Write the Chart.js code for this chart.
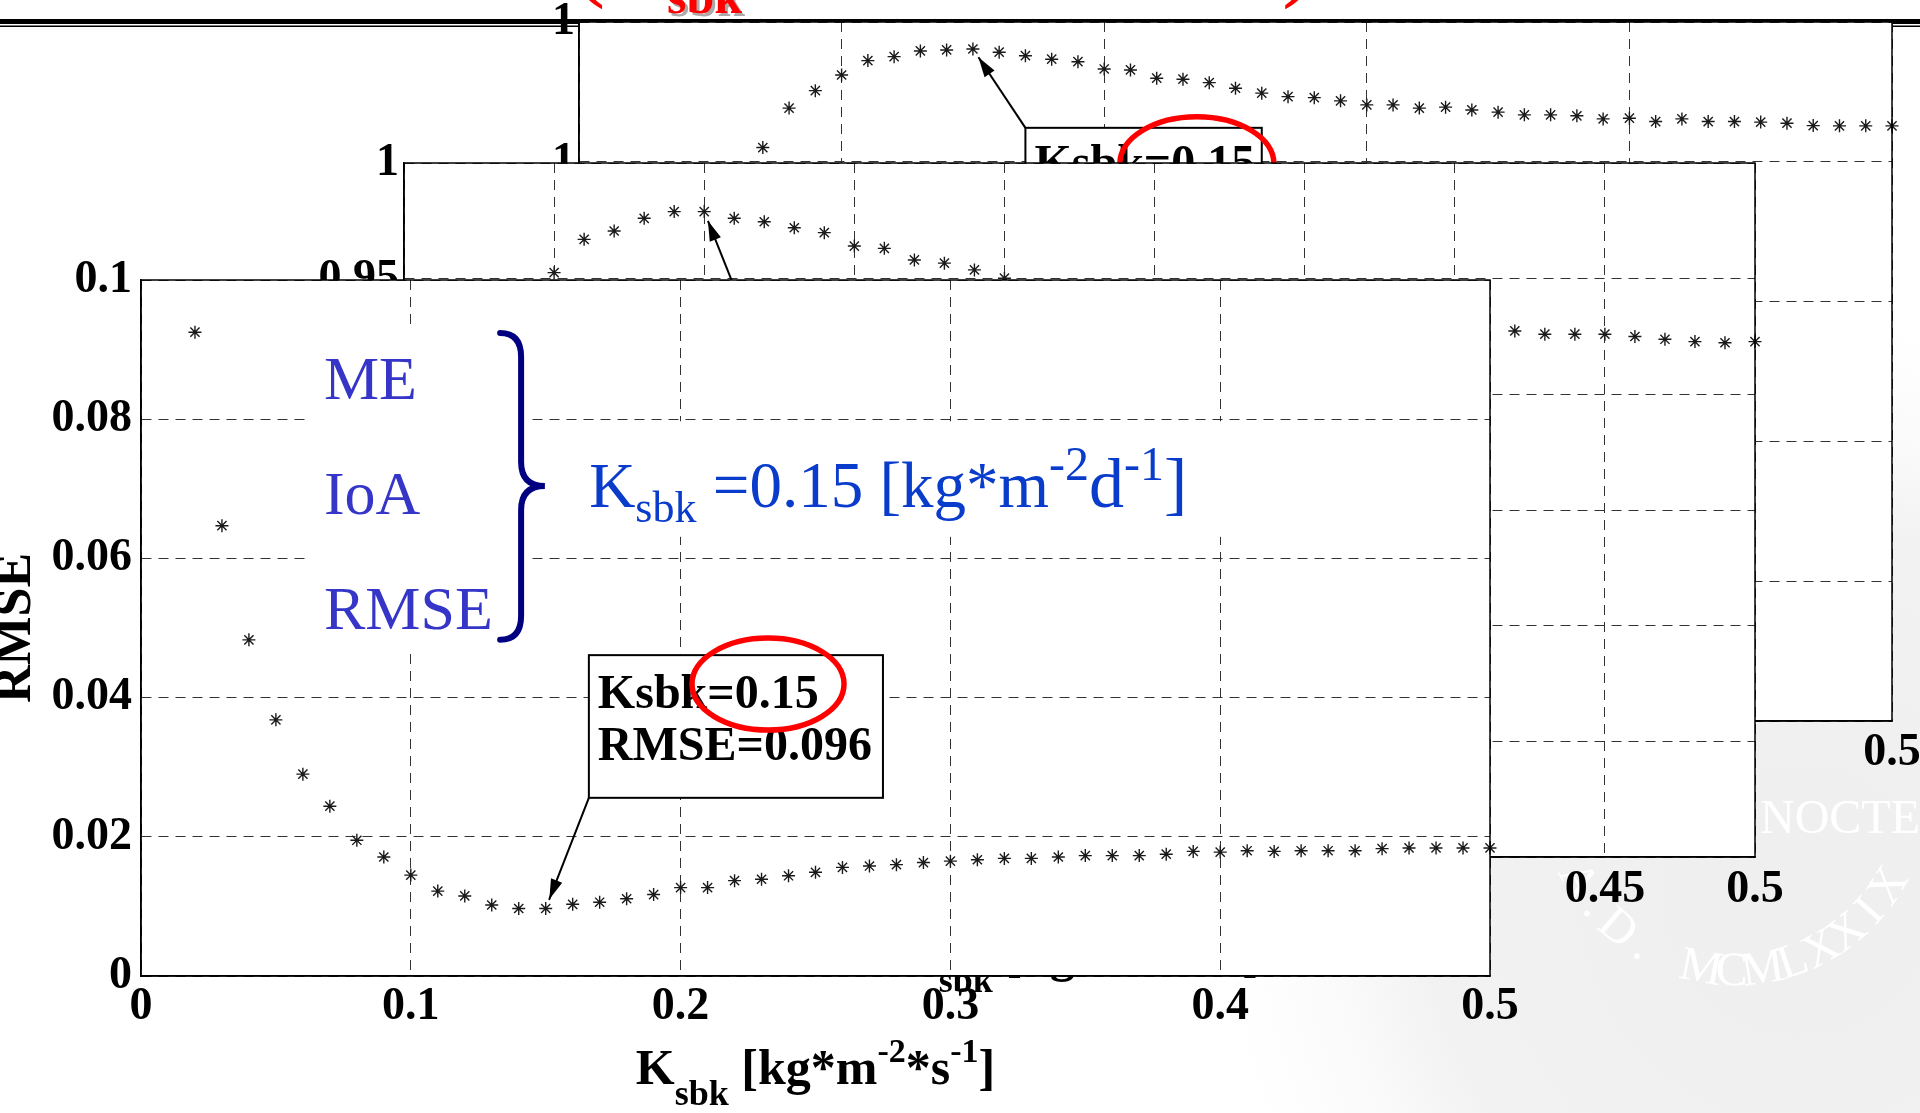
<!DOCTYPE html>
<html>
<head>
<meta charset="utf-8">
<script src="https://cdn.jsdelivr.net/npm/chart.js@4.4.1/dist/chart.umd.min.js"></script>
<style>
html, body { margin: 0; padding: 0; width: 1920px; height: 1113px; overflow: hidden; background: #fff; }
canvas { position: absolute; }
</style>
</head>
<body>
<canvas id="decor" width="1920" height="1113" style="left:0;top:0"></canvas>
<canvas id="meChart"></canvas>
<canvas id="ioaChart"></canvas>
<canvas id="rmseChart"></canvas>
<script>
// ---- data ----
const kRmse = [0.02,0.03,0.04,0.05,0.06,0.07,0.08,0.09,0.10,0.11,0.12,0.13,0.14,0.15,0.16,0.17,0.18,0.19,0.20,0.21,0.22,0.23,0.24,0.25,0.26,0.27,0.28,0.29,0.30,0.31,0.32,0.33,0.34,0.35,0.36,0.37,0.38,0.39,0.40,0.41,0.42,0.43,0.44,0.45,0.46,0.47,0.48,0.49,0.50];
const rmseValues = [0.0925,0.0647,0.0483,0.0368,0.0290,0.0244,0.0195,0.0171,0.0145,0.0122,0.0115,0.0102,0.0097,0.0097,0.0103,0.0106,0.0111,0.0117,0.0127,0.0127,0.0137,0.0139,0.0144,0.0149,0.0156,0.0158,0.0160,0.0163,0.0165,0.0167,0.0169,0.0169,0.0171,0.0173,0.0173,0.0173,0.0175,0.0179,0.0178,0.0180,0.0179,0.0180,0.0180,0.0180,0.0183,0.0184,0.0184,0.0184,0.0184];

// middle panel (only the points that are not covered)
const kIoa = [0.10,0.11,0.12,0.13,0.14,0.15,0.16,0.17,0.18,0.19,0.20,0.21,0.22,0.23,0.24,0.25,0.42,0.43,0.44,0.45,0.46,0.47,0.48,0.49,0.50];
const ioaValues = [0.9526,0.9670,0.9706,0.9761,0.9790,0.9790,0.9761,0.9746,0.9720,0.9699,0.9641,0.9631,0.9581,0.9567,0.9538,0.9502,0.9274,0.9260,0.9260,0.9260,0.9250,0.9238,0.9228,0.9223,0.9228];

// back panel
const kMe = [0.07,0.08,0.09,0.10,0.11,0.12,0.13,0.14,0.15,0.16,0.17,0.18,0.19,0.20,0.21,0.22,0.23,0.24,0.25,0.26,0.27,0.28,0.29,0.30,0.31,0.32,0.33,0.34,0.35,0.36,0.37,0.38,0.39,0.40,0.41,0.42,0.43,0.44,0.45,0.46,0.47,0.48,0.49,0.50];
const meValues = [0.9102,0.9384,0.9509,0.9621,0.9724,0.9752,0.9793,0.9800,0.9807,0.9784,0.9759,0.9734,0.9716,0.9664,0.9657,0.9598,0.9591,0.9566,0.9526,0.9491,0.9466,0.9459,0.9436,0.9407,0.9407,0.9384,0.9391,0.9371,0.9355,0.9336,0.9336,0.9329,0.9307,0.9312,0.9288,0.9307,0.9288,0.9288,0.9284,0.9276,0.9259,0.9257,0.9257,0.9257];

// ticks
const rmseXTicks = [0,0.1,0.2,0.3,0.4,0.5];
const rmseXLabels = ['0','0.1','0.2','0.3','0.4','0.5'];
const rmseYTicks = [0,0.02,0.04,0.06,0.08,0.1];
const rmseYLabels = ['0','0.02','0.04','0.06','0.08','0.1'];
const ioaXTicks = [0.05,0.1,0.15,0.2,0.25,0.3,0.35,0.4,0.45,0.5];
const ioaXLabels = ['0.05','0.1','0.15','0.2','0.25','0.3','0.35','0.4','0.45','0.5'];
const ioaYTicks = [0.7,0.75,0.8,0.85,0.9,0.95,1];
const ioaYLabels = ['0.7','0.75','0.8','0.85','0.9','0.95','1'];
const meXTicks = [0,0.1,0.2,0.3,0.4,0.5];
const meXLabels = ['0','0.1','0.2','0.3','0.4','0.5'];
const meYTicks = [0.5,0.6,0.7,0.8,0.9,1];
const meYLabels = ['1','1','1','1','1','1'];

const legendLabels = ['ME','IoA','RMSE'];
const legendY = [0.0829,0.0664,0.0499];

const fontFam = '"Liberation Serif", "Times New Roman", serif';

// axis title with sub/superscripts
const xTitle = [
    { t: 'K', size: 50 },
    { t: 'sbk', size: 36, dy: 21 },
    { t: ' [kg*m', size: 50 },
    { t: '-2', size: 34, dy: -22 },
    { t: '*s', size: 50 },
    { t: '-1', size: 34, dy: -22 },
    { t: ']', size: 50 },
];
const resultText = [
    { t: 'K', size: 64 },
    { t: 'sbk', size: 44, dy: 15 },
    { t: ' =0.15 [kg*m', size: 65 },
    { t: '-2', size: 48, dy: -27 },
    { t: 'd', size: 70 },
    { t: '-1', size: 48, dy: -27 },
    { t: ']', size: 70 },
];

// annotations per panel (data coordinates)
const notes = {
    rmseChart: {
        titleOffset: 108,
        whiteBoxes: [[0.0608, 0.0931, 0.1446, 0.0468], [0.1553, 0.0797, 0.4044, 0.0631]],
        legend: true,
        callout: { box: [0.166, 0.0461, 0.275, 0.0256], corner: 'bl', lines: ['Ksbk=0.15', 'RMSE=0.096'], dy: [53, 105],
                   target: [0.15, rmseValues[kRmse.indexOf(0.15)]] },
        ellipse: { c: [0.2324, 0.04195], rx: 76, ry: 46 },
    },
    ioaChart: {
        titleOffset: 114,
        callout: { box: [0.175, 0.8976, 0.27, 0.84], corner: 'tl', lines: ['Ksbk=0.15'], dy: [50],
                   target: [0.15, ioaValues[kIoa.indexOf(0.15)]] },
    },
    meChart: {
        titleOffset: 108,
        callout: { box: [0.170, 0.9243, 0.260, 0.82], corner: 'tl', lines: ['Ksbk=0.15'], dy: [50],
                   target: [0.15, meValues[kMe.indexOf(0.15)]] },
        ellipse: { c: [0.2353, 0.8986], rx: 77, ry: 47 },
    },
};

function drawRich(ctx, segs, x, y, align, weight, color) {
    const widths = segs.map(s => {
        ctx.font = `${weight} ${s.size}px ${fontFam}`;
        return ctx.measureText(s.t).width;
    });
    const total = widths.reduce((a, b) => a + b, 0);
    let cx = align === 'center' ? x - total / 2 : x;
    ctx.fillStyle = color;
    ctx.textAlign = 'left';
    ctx.textBaseline = 'alphabetic';
    segs.forEach((s, i) => {
        ctx.font = `${weight} ${s.size}px ${fontFam}`;
        ctx.fillText(s.t, cx, y + (s.dy || 0));
        cx += widths[i];
    });
}

function drawArrow(ctx, x0, y0, x1, y1) {
    ctx.beginPath();
    ctx.moveTo(x0, y0);
    ctx.lineTo(x1, y1);
    ctx.stroke();
    const a = Math.atan2(y1 - y0, x1 - x0), L = 20, W = 6;
    ctx.beginPath();
    ctx.moveTo(x1, y1);
    ctx.lineTo(x1 - L * Math.cos(a) + W * Math.sin(a), y1 - L * Math.sin(a) - W * Math.cos(a));
    ctx.lineTo(x1 - L * Math.cos(a) - W * Math.sin(a), y1 - L * Math.sin(a) + W * Math.cos(a));
    ctx.closePath();
    ctx.fill();
}

const slidePlugin = {
    id: 'slide',
    beforeDraw(chart) {
        const { ctx, chartArea: a } = chart;
        ctx.save();
        ctx.fillStyle = '#fff';
        ctx.fillRect(a.left, a.top, a.right - a.left, a.bottom - a.top);
        ctx.restore();
    },
    afterDatasetsDraw(chart) {
        const o = notes[chart.canvas.id];
        const { ctx, chartArea: a } = chart;
        const X = v => chart.scales.x.getPixelForValue(v);
        const Y = v => chart.scales.y.getPixelForValue(v);
        ctx.save();
        (o.whiteBoxes || []).forEach(b => {
            ctx.fillStyle = '#fff';
            ctx.fillRect(X(b[0]), Y(b[1]), X(b[2]) - X(b[0]), Y(b[3]) - Y(b[1]));
        });
        if (o.legend) {
            ctx.fillStyle = '#3535c8';
            ctx.font = `62px ${fontFam}`;
            ctx.textAlign = 'left';
            ctx.textBaseline = 'alphabetic';
            legendLabels.forEach((t, i) => ctx.fillText(t, X(0.0678), Y(legendY[i])));
            // curly brace
            const x0 = X(0.1331), xt = X(0.1497), xm = x0 + 21;
            const y0 = Y(0.0924), ym = Y(0.0704), y1 = Y(0.0483);
            ctx.strokeStyle = '#000080';
            ctx.lineWidth = 6;
            ctx.lineCap = 'round';
            ctx.beginPath();
            ctx.moveTo(x0, y0);
            ctx.quadraticCurveTo(xm, y0, xm, y0 + 24);
            ctx.lineTo(xm, ym - 24);
            ctx.quadraticCurveTo(xm, ym, xt, ym);
            ctx.quadraticCurveTo(xm, ym, xm, ym + 24);
            ctx.lineTo(xm, y1 - 24);
            ctx.quadraticCurveTo(xm, y1, x0, y1);
            ctx.stroke();
            drawRich(ctx, resultText, X(0.1661), Y(0.0674), 'left', 'normal', '#0a3ccc');
        }
        if (o.callout) {
            const c = o.callout;
            const L = X(c.box[0]), T = Y(c.box[1]), R = X(c.box[2]), B = Y(c.box[3]);
            ctx.fillStyle = '#fff';
            ctx.fillRect(L, T, R - L, B - T);
            ctx.strokeStyle = '#000';
            ctx.lineWidth = 2;
            ctx.strokeRect(L, T, R - L, B - T);
            ctx.fillStyle = '#000';
            ctx.font = `bold 48px ${fontFam}`;
            ctx.textAlign = 'left';
            ctx.textBaseline = 'alphabetic';
            c.lines.forEach((t, i) => ctx.fillText(t, L + 9, T + c.dy[i]));
            const tx = L, ty = c.corner === 'bl' ? B : T;
            const px = X(c.target[0]), py = Y(c.target[1]);
            const d = Math.hypot(px - tx, py - ty), gap = 10;
            ctx.lineWidth = 2;
            drawArrow(ctx, tx, ty, px - (px - tx) * gap / d, py - (py - ty) * gap / d);
        }
        if (o.ellipse) {
            const e = o.ellipse;
            ctx.strokeStyle = '#ff0000';
            ctx.lineWidth = 5.5;
            ctx.beginPath();
            ctx.ellipse(X(e.c[0]), Y(e.c[1]), e.rx, e.ry, 0, 0, Math.PI * 2);
            ctx.stroke();
        }
        ctx.strokeStyle = '#000';
        ctx.lineWidth = 1.5;
        ctx.strokeRect(a.left, a.top, a.right - a.left, a.bottom - a.top);
        ctx.restore();
    },
    afterDraw(chart) {
        const o = notes[chart.canvas.id];
        const { ctx, chartArea: a } = chart;
        ctx.save();
        drawRich(ctx, xTitle, (a.left + a.right) / 2, a.bottom + o.titleOffset, 'center', 'bold', '#000');
        ctx.restore();
    },
};

function makePanel(id, p) {
    const yW = 150, padT = 40, padR = 60;
    const cv = document.getElementById(id);
    cv.width = p.area.r - p.area.l + yW + padR;
    cv.height = p.area.b - p.area.t + padT + p.xH;
    cv.style.left = (p.area.l - yW) + 'px';
    cv.style.top = (p.area.t - padT) + 'px';
    cv.style.zIndex = p.z;
    const tickFont = { family: fontFam, size: 46, weight: 'bold', lineHeight: 1.2 };
    const grid = { color: '#333', lineWidth: 1, drawTicks: false };
    const border = { display: true, color: '#000', width: 1.5, dash: [10, 7] };
    return new Chart(cv, {
        type: 'scatter',
        data: {
            datasets: [{
                data: p.k.map((k, i) => ({ x: k, y: p.v[i] })),
                pointStyle: 'star',
                pointRadius: 6.5,
                borderColor: '#1a1a1a',
                backgroundColor: '#1a1a1a',
                borderWidth: 1.4,
                clip: 10,
            }],
        },
        options: {
            responsive: false,
            animation: false,
            devicePixelRatio: 1,
            events: [],
            layout: { padding: { left: 0, top: padT, right: padR, bottom: 0 } },
            plugins: { legend: { display: false }, tooltip: { enabled: false } },
            scales: {
                x: {
                    type: 'linear',
                    min: p.xTicks[0],
                    max: p.xTicks[p.xTicks.length - 1],
                    afterBuildTicks: s => { s.ticks = p.xTicks.map(v => ({ value: v })); },
                    afterFit: s => { s.height = p.xH; },
                    ticks: { font: tickFont, color: '#000', padding: p.xPad, maxRotation: 0, autoSkip: false,
                             callback: (v, i) => p.xLabels[i] },
                    grid: grid,
                    border: border,
                },
                y: {
                    type: 'linear',
                    min: p.yTicks[0],
                    max: p.yTicks[p.yTicks.length - 1],
                    afterBuildTicks: s => { s.ticks = p.yTicks.map(v => ({ value: v })); },
                    afterFit: s => { s.width = yW; },
                    ticks: { font: tickFont, color: '#000', padding: p.yPad, autoSkip: false,
                             callback: (v, i) => p.yLabels[i] },
                    grid: grid,
                    border: border,
                    title: { display: true, text: p.yTitle, color: '#000', padding: 0,
                             font: { family: fontFam, size: 52, weight: 'bold', lineHeight: 1 } },
                },
            },
        },
        plugins: [slidePlugin],
    });
}

// ---- slide background: header rule, title remains, watermark ----
(function drawDecor() {
    const d = document.getElementById('decor').getContext('2d');
    d.fillStyle = '#fff';
    d.fillRect(0, 0, 1920, 1113);
    const g = d.createRadialGradient(1800, 900, 80, 1800, 900, 620);
    g.addColorStop(0, '#efefef');
    g.addColorStop(0.55, '#f2f2f2');
    g.addColorStop(1, 'rgba(255,255,255,0)');
    d.fillStyle = g;
    d.fillRect(1100, 250, 820, 863);
    d.fillStyle = '#fff';
    d.font = `48px ${fontFam}`;
    d.textAlign = 'left';
    d.textBaseline = 'alphabetic';
    d.fillText('NOCTEM', 1760, 833);
    const arcText = 'A.D. MCMLXXIX';
    const cx = 1735, cy = 790, r = 195;
    d.textAlign = 'center';
    for (let i = 0; i < arcText.length; i++) {
        const th = (150 - i * (118 / (arcText.length - 1))) * Math.PI / 180;
        d.save();
        d.translate(cx + r * Math.cos(th), cy + r * Math.sin(th));
        d.rotate(th - Math.PI / 2);
        d.fillText(arcText[i], 0, 0);
        d.restore();
    }
    d.fillStyle = '#000';
    d.fillRect(0, 19, 1920, 5);
    d.fillRect(0, 25.5, 1920, 1.5);
    d.textAlign = 'left';
    d.font = `bold 50px ${fontFam}`;
    d.fillStyle = '#aaaaaa';
    d.fillText('sbk', 670, 16);
    d.fillStyle = '#ff0000';
    d.fillText('sbk', 667, 13);
    d.font = `100px ${fontFam}`;
    d.fillText('(', 572, -12);
    d.fillText(')', 1282, -12);
})();

makePanel('meChart', {
    area: { l: 579, t: 22, r: 1892, b: 721 }, xH: 150, z: 1,
    k: kMe, v: meValues, yTitle: 'ME',
    xTicks: meXTicks, xLabels: meXLabels, yTicks: meYTicks, yLabels: meYLabels,
    xPad: 5, yPad: 4,
});
makePanel('ioaChart', {
    area: { l: 404, t: 163, r: 1755, b: 857 }, xH: 150, z: 2,
    k: kIoa, v: ioaValues, yTitle: 'IoA',
    xTicks: ioaXTicks, xLabels: ioaXLabels, yTicks: ioaYTicks, yLabels: ioaYLabels,
    xPad: 6, yPad: 5,
});
makePanel('rmseChart', {
    area: { l: 141, t: 280, r: 1490, b: 976 }, xH: 137, z: 3,
    k: kRmse, v: rmseValues, yTitle: 'RMSE',
    xTicks: rmseXTicks, xLabels: rmseXLabels, yTicks: rmseYTicks, yLabels: rmseYLabels,
    xPad: 4, yPad: 9,
});
</script>
</body>
</html>
